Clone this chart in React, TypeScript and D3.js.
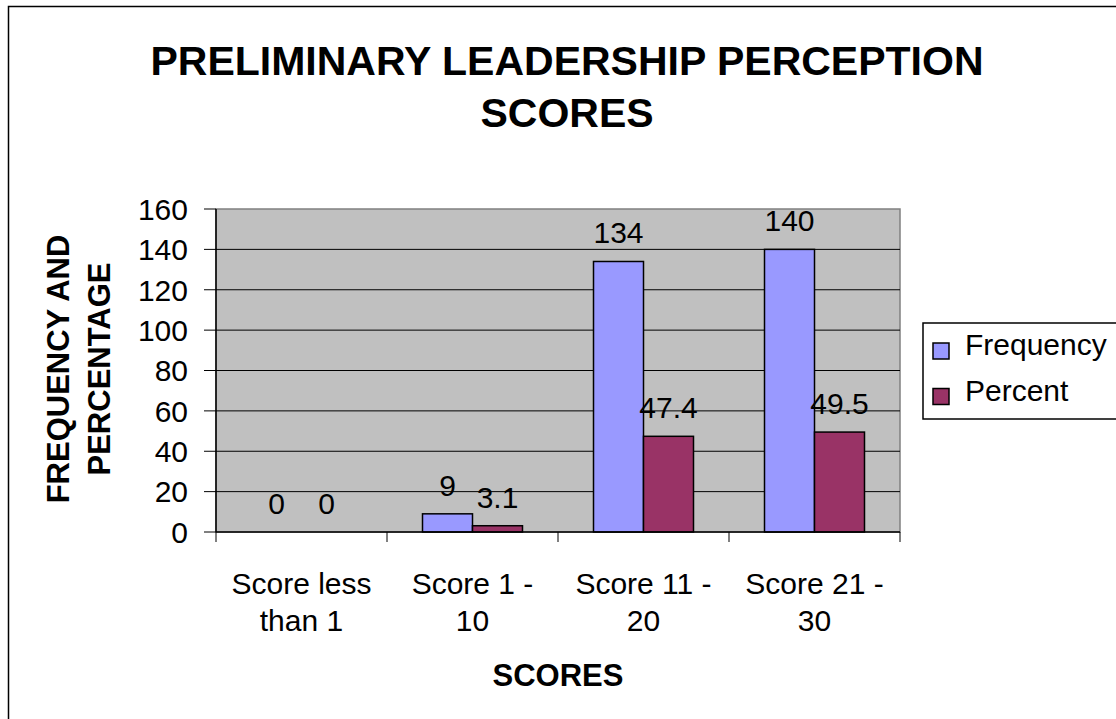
import React from 'react';
import * as d3 from 'd3';

const categories = [
  ['Score less', 'than 1'],
  ['Score 1 -', '10'],
  ['Score 11 -', '20'],
  ['Score 21 -', '30'],
];
const frequency = [0, 9, 134, 140];
const percent = [0, 3.1, 47.4, 49.5];
const seriesNames = ['Frequency', 'Percent'];
const seriesColors = ['#9999FF', '#993366'];
const yTicks = [0, 20, 40, 60, 80, 100, 120, 140, 160];

const W = 1116;
const H = 719;
const plot = { left: 216, right: 900, top: 209, bottom: 532 };
const font = 'Arial, "Liberation Sans", sans-serif';
const fs = 30;

export default function App() {
  const x = d3.scaleBand()
    .domain(categories.map((_, i) => String(i)))
    .range([plot.left, plot.right]);

  const y = d3.scaleLinear()
    .domain([0, 160])
    .range([plot.bottom, plot.top]);

  // two bars per category, Excel-style gap on both sides
  const inner = d3.scaleBand()
    .domain(seriesNames)
    .range([0, x.bandwidth()])
    .paddingOuter(0.71)
    .paddingInner(0);

  const series = [frequency, percent];
  const cx = (i: number) => (x(String(i)) as number) + x.bandwidth() / 2;

  return (
    <svg width={W} height={H} style={{ position: 'absolute', left: 0, top: 0, background: '#fff' }}
      fontFamily={font}>
      {/* chart frame */}
      <rect x={8.5} y={6.5} width={1300} height={900} fill="none" stroke="#000" strokeWidth={1.5} />

      {/* title */}
      <text x={567} y={75} textAnchor="middle" fontSize={41} fontWeight="bold">
        PRELIMINARY LEADERSHIP PERCEPTION
      </text>
      <text x={567} y={127} textAnchor="middle" fontSize={41} fontWeight="bold">SCORES</text>

      {/* plot area */}
      <rect x={plot.left} y={plot.top} width={plot.right - plot.left} height={plot.bottom - plot.top}
        fill="#C0C0C0" stroke="#808080" strokeWidth={1.5} />

      {yTicks.map(t => (
        <g key={t}>
          {t > 0 && t < 160 && (
            <line x1={plot.left} x2={plot.right} y1={y(t)} y2={y(t)} stroke="#000" strokeWidth={1} />
          )}
          <line x1={plot.left - 12} x2={plot.left} y1={y(t)} y2={y(t)} stroke="#000" strokeWidth={1} />
          <text x={188} y={y(t)} dy="0.36em" textAnchor="end" fontSize={fs}>{t}</text>
        </g>
      ))}

      {/* bars */}
      {series.map((vals, s) => vals.map((v, i) => (
        <rect key={`${s}-${i}`}
          x={(x(String(i)) as number) + (inner(seriesNames[s]) as number)}
          y={y(v)} width={inner.bandwidth()} height={plot.bottom - y(v)}
          fill={seriesColors[s]} stroke="#000" strokeWidth={1.5} />
      )))}

      {/* axes */}
      <line x1={plot.left} x2={plot.left} y1={plot.top} y2={plot.bottom} stroke="#000" strokeWidth={1.5} />
      <line x1={plot.left} x2={plot.right} y1={plot.bottom} y2={plot.bottom} stroke="#000" strokeWidth={1.5} />
      {categories.map((_, i) => (
        <line key={i} x1={x(String(i))} x2={x(String(i))} y1={plot.bottom} y2={plot.bottom + 10} stroke="#000" />
      ))}
      <line x1={plot.right} x2={plot.right} y1={plot.bottom} y2={plot.bottom + 10} stroke="#000" />

      {/* data labels */}
      {series.map((vals, s) => vals.map((v, i) => (
        <text key={`l${s}-${i}`}
          x={(x(String(i)) as number) + (inner(seriesNames[s]) as number) + inner.bandwidth() / 2}
          y={y(v) - 18} textAnchor="middle" fontSize={fs}>{v}</text>
      )))}

      {/* category labels */}
      {categories.map((lines, i) => (
        <text key={i} textAnchor="middle" fontSize={fs}>
          <tspan x={cx(i)} y={594}>{lines[0]}</tspan>
          <tspan x={cx(i)} y={631}>{lines[1]}</tspan>
        </text>
      ))}

      {/* axis titles */}
      <text x={558} y={686} textAnchor="middle" fontSize={31} fontWeight="bold">SCORES</text>
      <text transform="translate(69,369) rotate(-90)" textAnchor="middle" fontSize={31} fontWeight="bold">
        FREQUENCY AND
      </text>
      <text transform="translate(110,369) rotate(-90)" textAnchor="middle" fontSize={31} fontWeight="bold">
        PERCENTAGE
      </text>

      {/* legend */}
      <rect x={923} y={323} width={300} height={96} fill="#fff" stroke="#000" strokeWidth={1.5} />
      {seriesNames.map((name, s) => (
        <g key={name} transform={`translate(933, ${343 + s * 45.5})`}>
          <rect width={16} height={16} fill={seriesColors[s]} stroke="#000" strokeWidth={1.5} />
          <text x={32} y={12} fontSize={fs}>{name}</text>
        </g>
      ))}
    </svg>
  );
}
